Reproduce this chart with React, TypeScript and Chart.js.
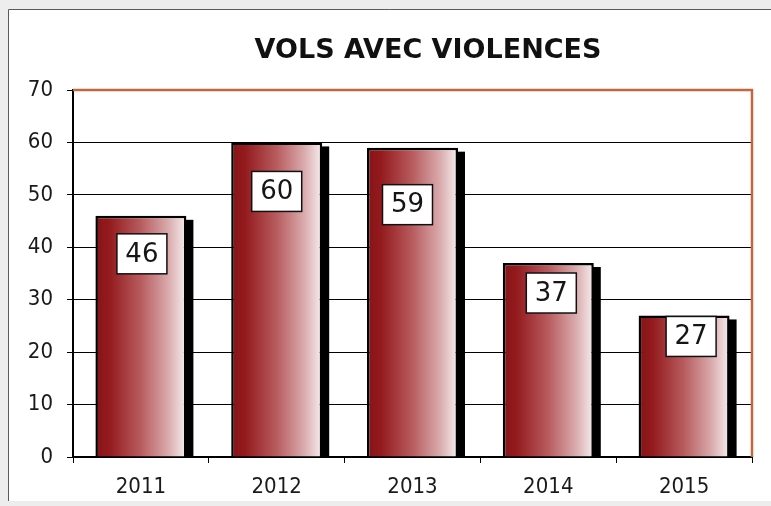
import { useEffect, useRef } from 'react';
import { Chart, registerables } from 'chart.js';

Chart.register(...registerables);

const TITLE = 'VOLS AVEC VIOLENCES';
const categories = ['2011', '2012', '2013', '2014', '2015'];
const values = [46, 60, 59, 37, 27];
const yMin = 0;
const yMax = 70;
const yStep = 10;

// label box nudges (style only): horizontal / vertical offset from bar centre / top
const labelDx = [1, 0, -5, 3, 7];
const labelDy = [18, 29, 37, 10, 1];

const W = 771;
const H = 506;

const decor = {
  id: 'decor',
  beforeDraw(chart: any) {
    const { ctx } = chart;
    ctx.save();
    ctx.fillStyle = '#ededed';
    ctx.fillRect(0, 0, W, H);
    ctx.fillStyle = '#ffffff';
    ctx.fillRect(8, 9, W - 8, 492);
    ctx.strokeStyle = '#5a5a5a';
    ctx.lineWidth = 1;
    ctx.beginPath();
    ctx.moveTo(8.5, 501);
    ctx.lineTo(8.5, 9.5);
    ctx.lineTo(W, 9.5);
    ctx.stroke();
    ctx.fillStyle = '#111111';
    ctx.font = 'bold 27px "DejaVu Sans"';
    ctx.textAlign = 'center';
    ctx.textBaseline = 'alphabetic';
    ctx.fillText(TITLE, 428, 58);
    ctx.restore();
  },
  beforeDatasetsDraw(chart: any) {
    const { ctx, chartArea: a } = chart;
    ctx.save();
    ctx.strokeStyle = '#c0673e';
    ctx.lineWidth = 2.5;
    ctx.beginPath();
    ctx.moveTo(a.left, a.top);
    ctx.lineTo(a.right, a.top);
    ctx.lineTo(a.right, a.bottom);
    ctx.stroke();
    const meta = chart.getDatasetMeta(0);
    ctx.fillStyle = '#000000';
    meta.data.forEach((el: any) => {
      const { x, y, width, base } = el.getProps(['x', 'y', 'width', 'base'], true);
      ctx.fillRect(x + width / 2 - 1, y + 4, 8, base - y - 4);
    });
    ctx.restore();
  },
  afterDatasetsDraw(chart: any) {
    const { ctx } = chart;
    const meta = chart.getDatasetMeta(0);
    ctx.save();
    ctx.font = '26px "DejaVu Sans"';
    ctx.textAlign = 'center';
    ctx.textBaseline = 'middle';
    meta.data.forEach((el: any, i: number) => {
      const { x, y } = el.getProps(['x', 'y'], true);
      const bw = 50;
      const bh = 40;
      const cx = x + labelDx[i];
      const top = y + labelDy[i];
      ctx.fillStyle = '#ffffff';
      ctx.fillRect(cx - bw / 2, top, bw, bh);
      ctx.strokeStyle = '#111111';
      ctx.lineWidth = 1.5;
      ctx.strokeRect(cx - bw / 2, top, bw, bh);
      ctx.fillStyle = '#151515';
      ctx.fillText(String(values[i]), cx, top + bh / 2 + 1);
    });
    ctx.restore();
  },
};

function barGradient(c: any) {
  const chart = c.chart;
  const xs = chart.scales?.x;
  const area = chart.chartArea;
  if (!xs || !area) return '#951b1e';
  const cw = (area.right - area.left) / categories.length;
  const bw = cw * 0.67;
  const cx = xs.getPixelForValue(c.dataIndex);
  const g = chart.ctx.createLinearGradient(cx - bw / 2, 0, cx + bw / 2, 0);
  g.addColorStop(0, '#861418');
  g.addColorStop(0.15, '#931a1d');
  g.addColorStop(0.5, '#b85c5f');
  g.addColorStop(0.8, '#d9aaac');
  g.addColorStop(1, '#f6eef0');
  return g;
}

export default function App() {
  const ref = useRef<HTMLCanvasElement>(null);
  useEffect(() => {
    if (!ref.current) return;
    const chart = new Chart(ref.current, {
      type: 'bar',
      data: {
        labels: categories,
        datasets: [
          {
            data: values,
            backgroundColor: barGradient as any,
            borderColor: '#000000',
            borderWidth: 2.5,
            categoryPercentage: 1,
            barPercentage: 0.67,
          },
        ],
      },
      options: {
        animation: false,
        responsive: false,
        devicePixelRatio: 1,
        layout: { padding: { left: 0, right: 19, top: 90, bottom: 0 } },
        plugins: {
          legend: { display: false },
          title: { display: false },
          tooltip: { enabled: false },
        },
        scales: {
          x: {
            afterFit(scale: any) {
              scale.height = 49;
            },
            grid: {
              display: true,
              drawOnChartArea: false,
              drawTicks: true,
              tickLength: 6,
              color: '#000000',
              lineWidth: 1,
            },
            border: { display: true, color: '#000000', width: 2 },
            ticks: {
              color: '#1a1a1a',
              padding: 11,
              font: { family: '"DejaVu Sans Condensed", "DejaVu Sans"', size: 22 },
            },
          },
          y: {
            min: yMin,
            max: yMax,
            afterFit(scale: any) {
              scale.width = 73;
            },
            grid: {
              color: '#000000',
              lineWidth: 1,
              drawTicks: true,
              tickLength: 6,
            },
            border: { display: true, color: '#000000', width: 2 },
            ticks: {
              stepSize: yStep,
              color: '#1a1a1a',
              padding: 14,
              font: { family: '"DejaVu Sans Condensed", "DejaVu Sans"', size: 22 },
            },
          },
        },
      },
      plugins: [decor],
    });
    return () => chart.destroy();
  }, []);
  return (
    <canvas
      ref={ref}
      width={W}
      height={H}
      style={{ position: 'fixed', left: 0, top: 0, width: W, height: H, display: 'block' }}
    />
  );
}
